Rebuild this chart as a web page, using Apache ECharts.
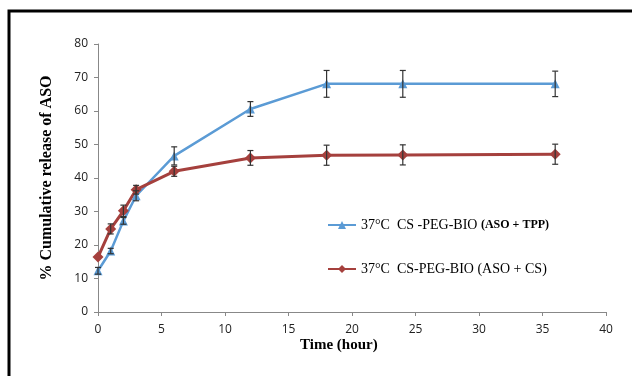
<!DOCTYPE html>
<html>
<head>
<meta charset="utf-8">
<script src="https://cdn.jsdelivr.net/npm/echarts@6/dist/echarts.min.js"></script>
<style>
  html, body { margin: 0; padding: 0; background: #fff; }
  #chart { width: 632px; height: 376px; }
</style>
</head>
<body>
<div id="chart"></div>
<script>
// release data
const timeHours = [0, 1, 2, 3, 6, 12, 18, 24, 36];
const tppRelease = [12.3, 18.2, 27.2, 34.7, 46.6, 60.6, 68.1, 68.1, 68.1];
const tppError = [1.0, 0.8, 1.0, 1.5, 2.7, 2.2, 4.0, 4.0, 3.8];
const csRelease = [16.4, 24.8, 30.2, 36.5, 42.0, 46.0, 46.8, 46.9, 47.1];
const csError = [0.0, 1.5, 1.7, 1.3, 1.5, 2.2, 3.0, 3.0, 3.0];
const seriesNames = ['37°C  CS -PEG-BIO (ASO + TPP)', '37°C  CS-PEG-BIO (ASO + CS)'];

const blue = '#5B9BD5';
const red = '#A5403D';

const chart = echarts.init(document.getElementById('chart'));

function errorData(vals, errs) {
  return timeHours.map((t, i) => [t, vals[i] - errs[i], vals[i] + errs[i]]);
}

function renderErrorBar(params, api) {
  const lo = api.coord([api.value(0), api.value(1)]);
  const hi = api.coord([api.value(0), api.value(2)]);
  if (Math.abs(lo[1] - hi[1]) < 1) return null;
  const w = 3;
  const style = { stroke: '#333', lineWidth: 1.2 };
  return {
    type: 'group',
    children: [
      { type: 'line', shape: { x1: hi[0], y1: hi[1], x2: lo[0], y2: lo[1] }, style },
      { type: 'line', shape: { x1: hi[0] - w, y1: hi[1], x2: hi[0] + w, y2: hi[1] }, style },
      { type: 'line', shape: { x1: lo[0] - w, y1: lo[1], x2: lo[0] + w, y2: lo[1] }, style }
    ]
  };
}

const option = {
  animation: false,
  grid: { left: 98, right: 26, top: 44, bottom: 64 },
  legend: {
    orient: 'vertical',
    left: 322,
    top: 213,
    itemGap: 30,
    itemWidth: 28,
    itemHeight: 10,
    data: seriesNames,
    formatter: (name) => {
      const k = name.indexOf('(');
      if (name.indexOf('TPP') >= 0) {
        return '{a|' + name.slice(0, k) + '}{b|' + name.slice(k) + '}';
      }
      return '{a|' + name + '}';
    },
    textStyle: {
      rich: {
        a: { fontFamily: 'Liberation Serif', fontSize: 14, color: '#000' },
        b: { fontFamily: 'Liberation Serif', fontSize: 12, fontWeight: 'bold', color: '#000' }
      }
    }
  },
  xAxis: {
    type: 'value',
    min: 0,
    max: 40,
    interval: 5,
    axisLine: { lineStyle: { color: '#888' } },
    axisTick: { lineStyle: { color: '#888' }, length: 4 },
    axisLabel: { color: '#222', fontFamily: 'Open Sans', fontSize: 12, margin: 12 },
    splitLine: { show: false }
  },
  yAxis: {
    type: 'value',
    min: 0,
    max: 80,
    interval: 10,
    name: '% Cumulative release of ASO',
    nameLocation: 'middle',
    nameGap: 43,
    nameRotate: 90,
    nameTextStyle: { fontFamily: 'Liberation Serif', fontSize: 16, fontWeight: 'bold', color: '#000' },
    axisLine: { show: true, lineStyle: { color: '#888' } },
    axisTick: { show: true, lineStyle: { color: '#888' }, length: 4 },
    axisLabel: { color: '#222', fontFamily: 'Open Sans', fontSize: 12, margin: 10 },
    splitLine: { show: false }
  },
  graphic: [
    {
      type: 'rect',
      shape: { x: 9, y: 11, width: 700, height: 500 },
      style: { fill: 'none', stroke: '#000', lineWidth: 3 },
      silent: true
    },
    {
      type: 'text',
      left: 300,
      top: 338,
      style: { text: 'Time (hour)', fontFamily: 'Liberation Serif', fontSize: 15, fontWeight: 'bold', fill: '#000' }
    }
  ],
  series: [
    {
      name: seriesNames[0],
      type: 'line',
      data: timeHours.map((t, i) => [t, tppRelease[i]]),
      symbol: 'triangle',
      symbolSize: 9,
      lineStyle: { color: blue, width: 2.5 },
      itemStyle: { color: blue },
      z: 2
    },
    {
      name: seriesNames[1],
      type: 'line',
      data: timeHours.map((t, i) => [t, csRelease[i]]),
      symbol: 'diamond',
      symbolSize: 11,
      lineStyle: { color: red, width: 3 },
      itemStyle: { color: red },
      z: 2
    },
    {
      type: 'custom',
      renderItem: renderErrorBar,
      data: errorData(tppRelease, tppError),
      encode: { x: 0, y: [1, 2] },
      z: 5
    },
    {
      type: 'custom',
      renderItem: renderErrorBar,
      data: errorData(csRelease, csError),
      encode: { x: 0, y: [1, 2] },
      z: 5
    }
  ]
};

chart.setOption(option);
</script>
</body>
</html>
